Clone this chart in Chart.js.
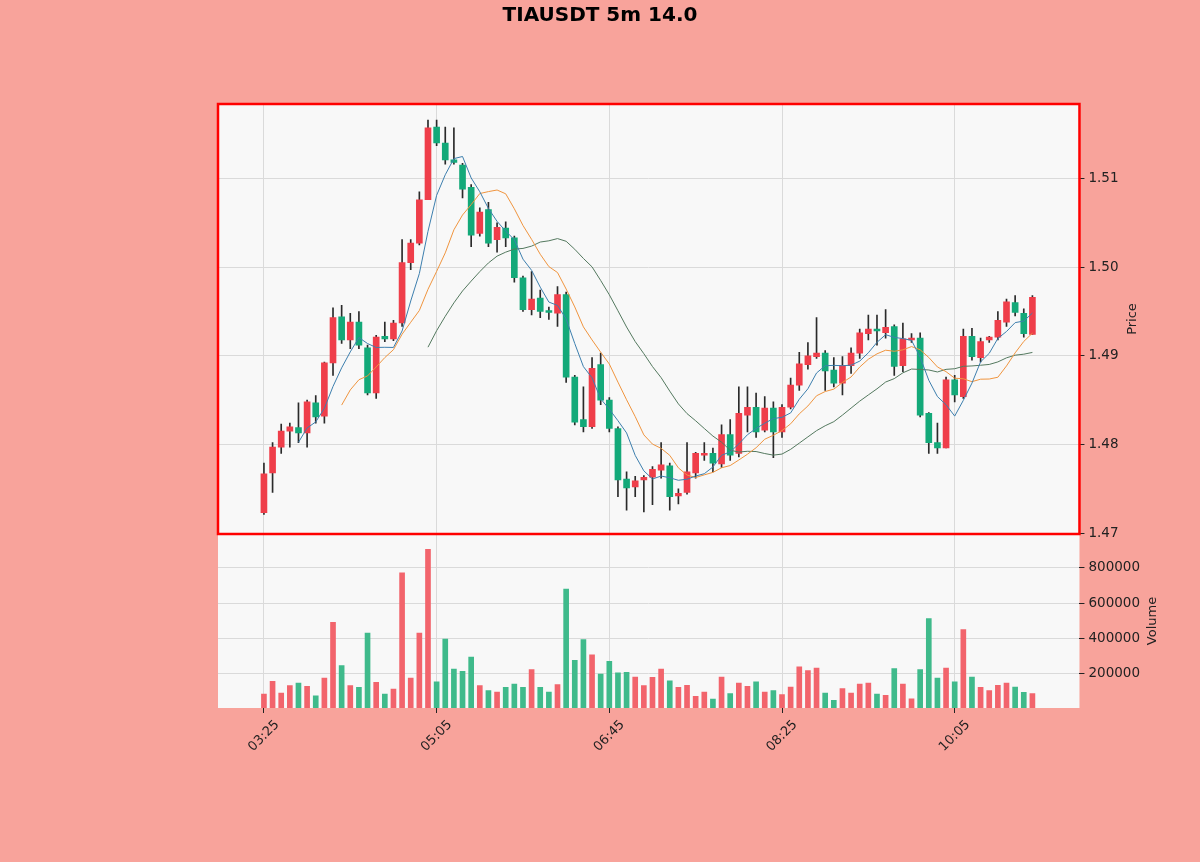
<!DOCTYPE html>
<html>
<head>
<meta charset="utf-8">
<script src="https://cdn.jsdelivr.net/npm/chart.js@4.4.1/dist/chart.umd.min.js"></script>
<style>
html,body{margin:0;padding:0;background:#f8a39b;}
canvas{display:block;}
</style>
</head>
<body>
<canvas id="c" width="1200" height="862"></canvas>
<script>
const titleText = 'TIAUSDT 5m 14.0';
const tickIndex = [0, 20, 40, 60, 80];
const tickLabels = ['03:25', '05:05', '06:45', '08:25', '10:05'];
const priceTicks = [1.47, 1.48, 1.49, 1.50, 1.51];
const volumeTicks = [200000, 400000, 600000, 800000];
const maPeriods = [5, 10, 20];

const opens = [
1.4723,1.4768,1.4797,1.4815,1.4819,1.4813,1.4847,1.4832,1.4892,1.4944,
1.4918,1.4938,1.4909,1.4858,1.4922,1.4919,1.4937,1.5005,1.5027,1.5076,
1.5158,1.5140,1.5121,1.5115,1.5090,1.5038,1.5065,1.5031,1.5044,1.5033,
1.4988,1.4952,1.4965,1.4951,1.4948,1.4969,1.4876,1.4828,1.4820,1.4890,
1.4850,1.4818,1.4761,1.4752,1.4760,1.4763,1.4771,1.4776,1.4742,1.4746,
1.4768,1.4788,1.4790,1.4778,1.4811,1.4790,1.4833,1.4842,1.4816,1.4841,
1.4814,1.4842,1.4867,1.4890,1.4899,1.4903,1.4884,1.4869,1.4889,1.4903,
1.4925,1.4930,1.4926,1.4933,1.4889,1.4918,1.4920,1.4835,1.4802,1.4796,
1.4873,1.4854,1.4922,1.4898,1.4918,1.4921,1.4938,1.4960,1.4948,1.4924];
const highs = [
1.4779,1.4802,1.4823,1.4824,1.4847,1.4850,1.4855,1.4893,1.4954,1.4957,
1.4948,1.4950,1.4912,1.4923,1.4938,1.4940,1.5031,1.5031,1.5085,1.5166,
1.5166,1.5158,1.5157,1.5117,1.5093,1.5067,1.5073,1.5050,1.5051,1.5035,
1.4990,1.4995,1.4974,1.4955,1.4978,1.4972,1.4878,1.4865,1.4898,1.4903,
1.4853,1.4820,1.4769,1.4764,1.4765,1.4775,1.4802,1.4779,1.4750,1.4802,
1.4791,1.4802,1.4796,1.4822,1.4828,1.4865,1.4865,1.4858,1.4854,1.4848,
1.4845,1.4875,1.4904,1.4915,1.4943,1.4906,1.4898,1.4899,1.4909,1.4930,
1.4946,1.4946,1.4952,1.4935,1.4937,1.4925,1.4926,1.4836,1.4824,1.4876,
1.4878,1.4930,1.4931,1.4920,1.4922,1.4950,1.4964,1.4968,1.4953,1.4968];
const lows = [
1.4721,1.4746,1.4790,1.4797,1.4802,1.4797,1.4824,1.4824,1.4878,1.4914,
1.4908,1.4908,1.4856,1.4852,1.4916,1.4917,1.4933,1.4997,1.5025,1.5076,
1.5137,1.5116,1.5116,1.5078,1.5023,1.5035,1.5023,1.5017,1.5023,1.4983,
1.4950,1.4946,1.4943,1.4941,1.4933,1.4870,1.4822,1.4814,1.4818,1.4845,
1.4814,1.4741,1.4726,1.4741,1.4724,1.4732,1.4762,1.4726,1.4733,1.4744,
1.4762,1.4782,1.4769,1.4774,1.4782,1.4786,1.4814,1.4808,1.4814,1.4785,
1.4808,1.4840,1.4861,1.4885,1.4897,1.4861,1.4865,1.4856,1.4880,1.4897,
1.4918,1.4912,1.4920,1.4878,1.4882,1.4915,1.4831,1.4790,1.4790,1.4796,
1.4848,1.4852,1.4895,1.4893,1.4915,1.4918,1.4933,1.4945,1.4921,1.4924];
const closes = [
1.4767,1.4797,1.4815,1.4820,1.4813,1.4848,1.4831,1.4892,1.4943,1.4918,
1.4938,1.4912,1.4858,1.4921,1.4919,1.4937,1.5005,1.5027,1.5076,1.5157,
1.5140,1.5121,1.5118,1.5088,1.5036,1.5062,1.5027,1.5045,1.5033,1.4988,
1.4952,1.4964,1.4950,1.4949,1.4969,1.4876,1.4825,1.4820,1.4886,1.4850,
1.4818,1.4760,1.4751,1.4759,1.4763,1.4772,1.4777,1.4741,1.4745,1.4769,
1.4790,1.4790,1.4779,1.4811,1.4788,1.4835,1.4842,1.4814,1.4841,1.4814,
1.4842,1.4867,1.4891,1.4900,1.4903,1.4883,1.4869,1.4889,1.4903,1.4926,
1.4930,1.4928,1.4932,1.4888,1.4919,1.4920,1.4833,1.4802,1.4796,1.4873,
1.4856,1.4922,1.4899,1.4916,1.4921,1.4940,1.4961,1.4949,1.4925,1.4966];
const volumes = [
87000,158000,92000,134000,149000,130000,77000,177000,492000,247000,
134000,125000,432000,153000,87000,115000,772000,177000,432000,905000,
155000,398000,228000,215000,296000,134000,106000,98000,125000,143000,
125000,225000,125000,98000,140000,681000,277000,394000,309000,200000,
272000,206000,209000,183000,134000,181000,228000,162000,125000,136000,
74000,98000,58000,183000,89000,149000,130000,155000,98000,106000,
83000,126000,240000,219000,234000,92000,51000,117000,92000,143000,
149000,87000,79000,230000,143000,60000,225000,513000,177000,234000,
155000,451000,183000,125000,106000,136000,149000,126000,96000,89000];

// style
const UP = '#ef3e4a', DOWN = '#13a979';
const UPV = '#f2646c', DOWNV = '#3fba8b';
const WICK = '#2a2a2a';
const MA_COLORS = ['#3d7fae', '#f0953f', '#54795f'];

function sma(arr, n) {
  return arr.map((_, i) => {
    if (i < n - 1) return null;
    let s = 0;
    for (let k = i - n + 1; k <= i; k++) s += arr[k];
    return s / n;
  });
}

const isUp = closes.map((c, i) => c >= opens[i]);
const bodyData = opens.map((o, i) => ({x: i, y: [o, closes[i]]}));
const wickData = lows.map((l, i) => ({x: i, y: [l, highs[i]]}));
const volData = volumes.map((v, i) => ({x: i, y: v}));

const maSets = maPeriods.map((p, k) => ({
  type: 'line',
  label: 'MA' + p,
  data: sma(closes, p).map((v, i) => ({x: i, y: v})),
  borderColor: MA_COLORS[k],
  borderWidth: 1,
  pointRadius: 0,
  tension: 0,
  spanGaps: false,
  yAxisID: 'y',
  order: 0
}));

const deco = {
  id: 'deco',
  beforeDraw(chart) {
    const {ctx, chartArea: a} = chart;
    ctx.save();
    ctx.fillStyle = '#f8a39b';
    ctx.fillRect(0, 0, chart.width, chart.height);
    ctx.fillStyle = '#f8f8f8';
    ctx.fillRect(a.left, a.top, a.right - a.left, a.bottom - a.top);
    ctx.restore();
  },
  afterDraw(chart) {
    const {ctx, chartArea: a, scales} = chart;
    const y = scales.y, yv = scales.yv, x = scales.x;
    ctx.save();
    ctx.strokeStyle = '#ff0000';
    ctx.lineWidth = 2.5;
    ctx.strokeRect(a.left, y.top, a.right - a.left, y.bottom - y.top);

    ctx.fillStyle = '#000';
    ctx.font = 'bold 20px "DejaVu Sans"';
    ctx.textAlign = 'center';
    ctx.textBaseline = 'middle';
    ctx.fillText(titleText, 600, 16);

    ctx.font = '13px "DejaVu Sans"';
    ctx.fillStyle = '#222';
    tickIndex.forEach((idx, k) => {
      const px = x.getPixelForValue(idx);
      ctx.save();
      ctx.translate(px, a.bottom + 28);
      ctx.rotate(-Math.PI / 4);
      ctx.fillText(tickLabels[k], 0, 0);
      ctx.restore();
    });

    ctx.fillStyle = '#222';
    ctx.save();
    ctx.translate(1133, (y.top + y.bottom) / 2);
    ctx.rotate(-Math.PI / 2);
    ctx.fillText('Price', 0, 0);
    ctx.restore();
    ctx.save();
    ctx.translate(1153, (yv.top + yv.bottom) / 2);
    ctx.rotate(-Math.PI / 2);
    ctx.fillText('Volume', 0, 0);
    ctx.restore();
    ctx.restore();
  }
};

const gridColor = '#dadada';

new Chart(document.getElementById('c'), {
  data: {
    datasets: [
      ...maSets,
      {
        type: 'bar', label: 'body', data: bodyData, yAxisID: 'y',
        backgroundColor: isUp.map(u => u ? UP : DOWN),
        barThickness: 6, minBarLength: 1, grouped: false, order: 1
      },
      {
        type: 'bar', label: 'wick', data: wickData, yAxisID: 'y',
        backgroundColor: WICK, barThickness: 1, grouped: false, order: 2
      },
      {
        type: 'bar', label: 'volume', data: volData, yAxisID: 'yv',
        backgroundColor: isUp.map(u => u ? UPV : DOWNV),
        barThickness: 5, grouped: false, order: 3
      }
    ]
  },
  options: {
    responsive: false,
    animation: false,
    devicePixelRatio: 1,
    layout: {padding: {left: 218, top: 104, right: 56, bottom: 149}},
    plugins: {legend: {display: false}, tooltip: {enabled: false}, title: {display: false}},
    scales: {
      x: {
        type: 'linear', position: 'bottom', min: -5.32, max: 94.45, offset: false,
        afterBuildTicks: s => { s.ticks = tickIndex.map(v => ({value: v})); },
        grid: {color: gridColor, lineWidth: 1, drawTicks: true, tickLength: 5, tickColor: '#222', offset: false},
        border: {display: false},
        ticks: {display: false}
      },
      y: {
        type: 'linear', position: 'right', stack: 'panes', stackWeight: 430, weight: 1,
        min: 1.4699, max: 1.5184,
        afterBuildTicks: s => { s.ticks = priceTicks.map(v => ({value: v})); },
        grid: {color: gridColor, lineWidth: 1, tickLength: 5, tickColor: '#222'},
        border: {display: false},
        ticks: {padding: 4, color: '#222', font: {family: 'DejaVu Sans', size: 13.5}, callback: v => Number(v).toFixed(2)}
      },
      yv: {
        type: 'linear', position: 'right', stack: 'panes', stackWeight: 174, weight: 1,
        min: 7600, max: 992000,
        afterBuildTicks: s => { s.ticks = volumeTicks.map(v => ({value: v})); },
        grid: {color: gridColor, lineWidth: 1, tickLength: 5, tickColor: '#222'},
        border: {display: false},
        ticks: {padding: 4, color: '#222', font: {family: 'DejaVu Sans', size: 13.5}, callback: v => String(v)}
      }
    }
  },
  plugins: [deco]
});
</script>
</body>
</html>
